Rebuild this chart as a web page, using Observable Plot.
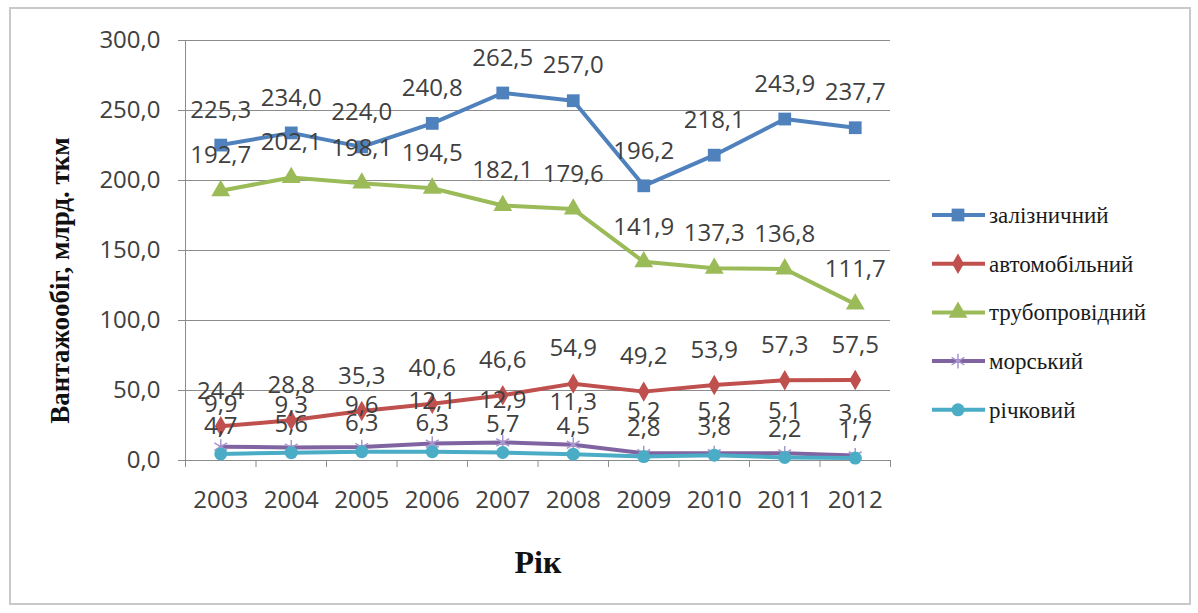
<!DOCTYPE html>
<html>
<head>
<meta charset="utf-8">
<script src="https://cdn.jsdelivr.net/npm/d3@7"></script>
<script src="https://cdn.jsdelivr.net/npm/@observablehq/plot@0.6"></script>
<style>
  html, body { margin: 0; padding: 0; background: #fff; }
  #wrap { position: relative; width: 1198px; height: 613px; overflow: hidden; }
  #frame { position: absolute; left: 9px; top: 7px; width: 1182px; height: 598px; border: 2px solid #c9c9c9; box-sizing: border-box; pointer-events: none; }
  #chart { position: absolute; left: 0; top: 0; }
  #legend { position: absolute; left: 0; top: 0; }
</style>
</head>
<body>
<div id="wrap">
  <div id="frame"></div>
  <div id="chart"></div>
  <svg id="legend" width="1198" height="613"></svg>
</div>
<script>
const years = [2003, 2004, 2005, 2006, 2007, 2008, 2009, 2010, 2011, 2012];
const seriesNames = ["залізничний", "автомобільний", "трубопровідний", "морський", "річковий"];
const rail  = [225.3, 234.0, 224.0, 240.8, 262.5, 257.0, 196.2, 218.1, 243.9, 237.7];
const auto  = [24.4, 28.8, 35.3, 40.6, 46.6, 54.9, 49.2, 53.9, 57.3, 57.5];
const pipe  = [192.7, 202.1, 198.1, 194.5, 182.1, 179.6, 141.9, 137.3, 136.8, 111.7];
const sea   = [9.9, 9.3, 9.6, 12.1, 12.9, 11.3, 5.2, 5.2, 5.1, 3.6];
const river = [4.7, 5.6, 6.3, 6.3, 5.7, 4.5, 2.8, 3.8, 2.2, 1.7];
const yTicks = [0, 50, 100, 150, 200, 250, 300];
const yTitle = "Вантажообіг, млрд. ткм";
const xTitle = "Рік";

const colors = ["#4F81BD", "#C0504D", "#9BBB59", "#8064A2", "#4BACC6"];
const symbols = ["square", "diamond", "triangle", "asterisk", "circle"];
const symbolR = [7.2, 6.2, 7, 7, 6.5];
const labelDy = [-35, -35, -35, -42, -28];

const allSeries = [rail, auto, pipe, sea, river];
const data = [];
allSeries.forEach((vals, si) => {
  vals.forEach((v, i) => data.push({ series: seriesNames[si], si, year: years[i], value: v }));
});

const fmt = d => d.toFixed(1).replace(".", ",");
const boundaries = [years[0] - 0.5, ...years.map(y => y + 0.5)];
const gridColor = "#8c8c8c";
const textColor = "#404040";
const serif = "'Liberation Serif', 'Times New Roman', serif";

const marks = [
  Plot.gridY(yTicks, { stroke: gridColor, strokeOpacity: 1, strokeWidth: 1 }),
  Plot.ruleX([boundaries[0]], { stroke: gridColor, strokeWidth: 1 }),
  Plot.ruleY([0], { stroke: gridColor, strokeWidth: 1 }),
  Plot.axisY(yTicks, { tickSize: 7, tickPadding: 18, tickFormat: fmt, stroke: gridColor, fill: textColor, label: null, fontSize: 24 }),
  Plot.axisX(boundaries, { tickSize: 7, tickFormat: () => "", stroke: gridColor, label: null }),
  Plot.axisX(years, { tickSize: 0, tickPadding: 30, tickFormat: d => String(d), fill: textColor, label: null, fontSize: 24 }),
  Plot.line(data, { x: "year", y: "value", z: "series", stroke: "series", strokeWidth: 4, strokeLinejoin: "round" }),
];

seriesNames.forEach((name, si) => {
  const sub = data.filter(d => d.si === si);
  if (symbols[si] === "asterisk") {
    marks.push(Plot.dot(sub, { x: "year", y: "value", symbol: () => "asterisk", r: symbolR[si], stroke: "#a898cf", strokeWidth: 1.5, fill: "none" }));
  } else {
    marks.push(Plot.dot(sub, { x: "year", y: "value", symbol: () => symbols[si], r: symbolR[si], fill: colors[si], stroke: "none" }));
  }
});

seriesNames.forEach((name, si) => {
  const sub = data.filter(d => d.si === si);
  marks.push(Plot.text(sub, { x: "year", y: "value", text: d => fmt(d.value), dy: labelDy[si], fill: textColor, fontSize: 24, lineAnchor: "middle" }));
});

marks.push(Plot.text([yTitle], { frameAnchor: "left", textAnchor: "middle", dx: -125, dy: 30, rotate: -90, fill: "#111", fontSize: 27, fontWeight: "bold", fontFamily: serif, lineAnchor: "middle" }));
marks.push(Plot.text([xTitle], { frameAnchor: "bottom", dy: 102, fill: "#111", fontSize: 32, fontWeight: "bold", fontFamily: serif, lineAnchor: "middle" }));

const chart = Plot.plot({
  width: 1198,
  height: 613,
  marginLeft: 185,
  marginRight: 308,
  marginTop: 40,
  marginBottom: 153,
  style: { fontFamily: "Open Sans", fontSize: "24px", color: textColor, background: "transparent" },
  x: { type: "linear", domain: [boundaries[0], boundaries[boundaries.length - 1]] },
  y: { domain: [0, 300] },
  color: { domain: seriesNames, range: colors },
  symbol: { domain: symbols, range: symbols },
  marks
});
document.getElementById("chart").appendChild(chart);

// Legend
const lg = d3.select("#legend");
const symMap = { square: d3.symbolSquare, diamond: d3.symbolDiamond, triangle: d3.symbolTriangle, asterisk: d3.symbolAsterisk, circle: d3.symbolCircle };
seriesNames.forEach((name, si) => {
  const y = 215 + si * 48.7;
  const g = lg.append("g");
  g.append("line").attr("x1", 932).attr("x2", 985).attr("y1", y).attr("y2", y)
    .attr("stroke", colors[si]).attr("stroke-width", 4);
  const r = symbolR[si];
  const path = d3.symbol(symMap[symbols[si]], Math.PI * r * r)();
  const p = g.append("path").attr("d", path).attr("transform", `translate(958,${y})`);
  if (symbols[si] === "asterisk") p.attr("fill", "none").attr("stroke", "#a898cf").attr("stroke-width", 1.5);
  else p.attr("fill", colors[si]);
  g.append("text").attr("x", 989).attr("y", y).attr("dy", "0.35em")
    .style("font-family", serif).style("font-size", "23px").attr("fill", "#1a1a1a")
    .text(name);
});
</script>
</body>
</html>
